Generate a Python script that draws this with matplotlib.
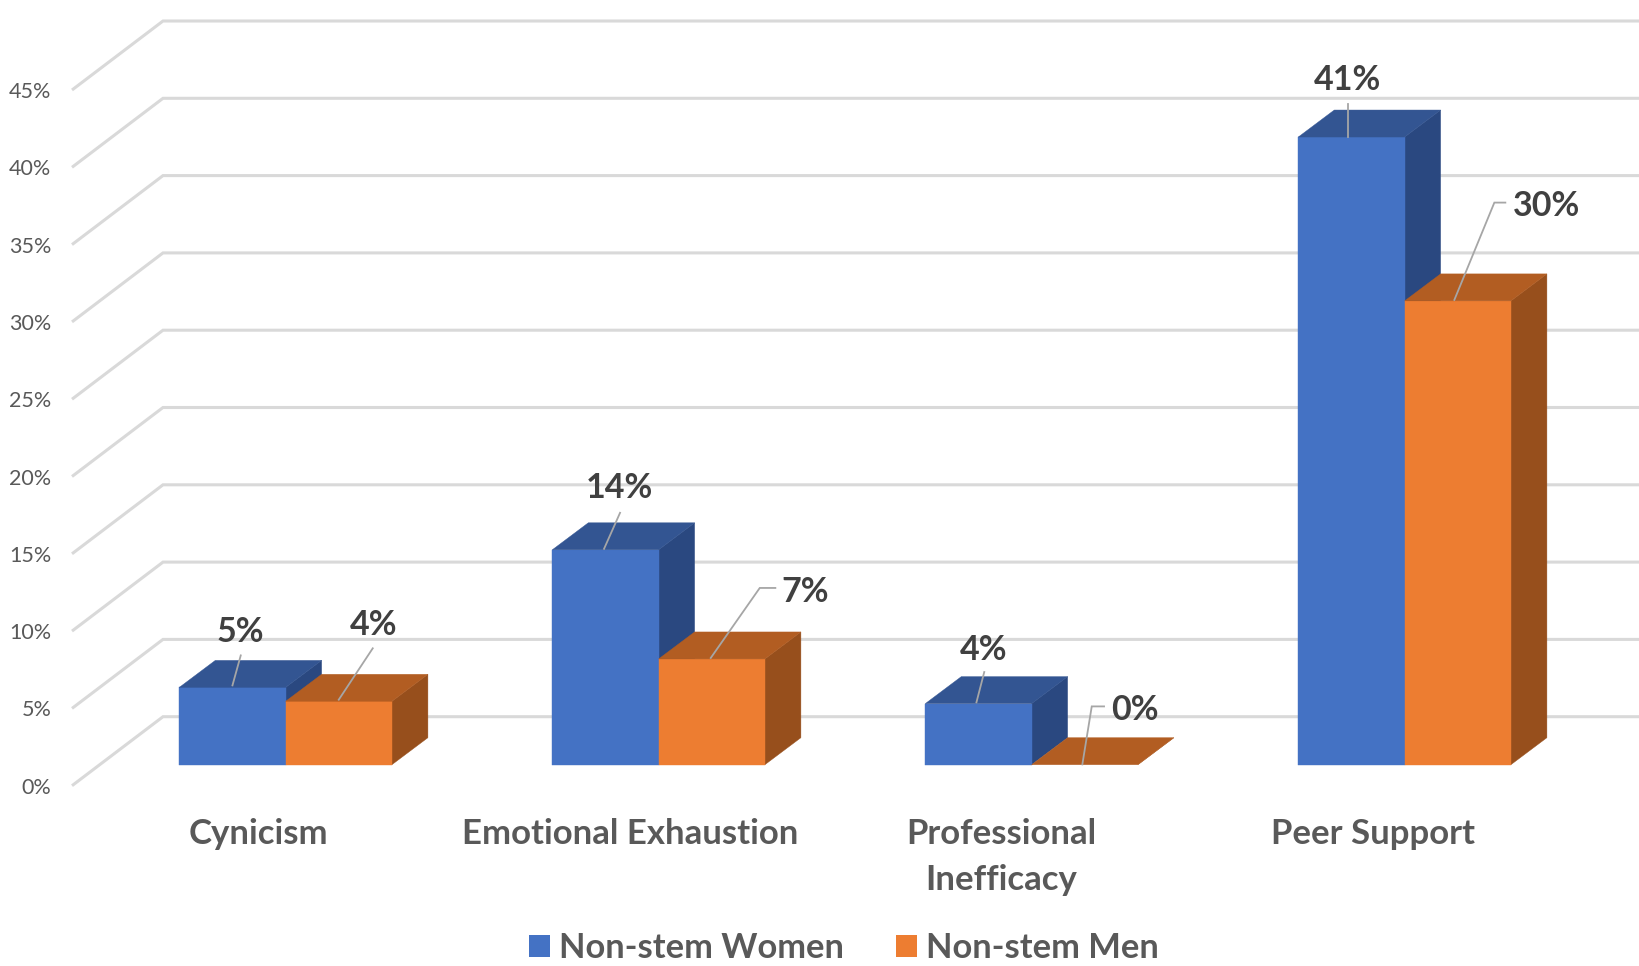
import matplotlib
matplotlib.use("Agg")
import matplotlib.pyplot as plt
from matplotlib.patches import Patch, Polygon

# --- data ---
categories = ["Cynicism", "Emotional Exhaustion", "Professional\nInefficacy", "Peer Support"]
women = [5.0, 13.9, 3.95, 40.6]
men = [4.1, 6.84, 0.0, 30.0]
y_ticks = [0, 5, 10, 15, 20, 25, 30, 35, 40, 45]
series_names = ["Non-stem Women", "Non-stem Men"]

# --- styles / layout ---
W, H = 1639, 966
PX_CAT = 373.0      # pixels per category step
PX_PCT = 15.46      # pixels per percent
AX_L, AX_B = 72, 785.7  # axes origin in image pixels
TICK0_PX = 258
LABEL_STEP = 0.9968
BAR_W = 106.3 / PX_CAT
BAR_SHIFT = 27.6 / PX_CAT
DEPTH_X, DEPTH_Y = 36 / PX_CAT, 27 / PX_PCT
FLOOR_DX, FLOOR_DY = 91 / PX_CAT, 69 / PX_PCT
BASE = 21.0 / PX_PCT
BLUE = ("#4472C4", "#335592", "#2A4880")
ORANGE = ("#ED7D31", "#B25D22", "#974F1C")
GRID = "#D9D9D9"
LEADER = "#A6A6A6"
TEXT_AXIS = "#595959"
TEXT_LABEL = "#404040"
FONT = "Lato"

# leader vertices and label centre, pixels relative to the front top centre of each bar
women_leaders = [[(0, 2), (8.3, 32)], [(-1.4, 1), (14.6, 37)], [(-2, 1.3), (5.8, 31.6)], [(-3.2, 0), (-3.2, 33)]]
women_text = [(8.3, 55), (13.6, 62), (5, 54), (-4, 57)]
men_leaders = [[(0, 1.6), (34, 53)], [(-1, 1), (48, 71), (63.6, 71)], [(-2.4, 0.3), (7, 58.3), (19.3, 58.3)],
               [(-3.4, 1), (36.6, 98.3), (47.6, 98.3)]]
men_text = [(34.4, 76), (93, 67), (50.3, 55), (88.3, 95)]

fig = plt.figure(figsize=(W / 100, H / 100), dpi=100, facecolor="white")
ax = fig.add_axes([AX_L / W, (H - AX_B) / H, (W - AX_L) / W, AX_B / H])
ax.set_xlim((AX_L - TICK0_PX) / PX_CAT, (W - TICK0_PX) / PX_CAT)
ax.set_ylim(0, AX_B / PX_PCT)
for s in ax.spines.values():
    s.set_visible(False)
ax.patch.set_visible(False)

# gridlines: diagonal on the side wall, then along the back wall
x0 = ax.get_xlim()[0]
x1 = ax.get_xlim()[1]
for v in y_ticks:
    ax.plot([x0, x0 + FLOOR_DX, x1], [v, v + FLOOR_DY, v + FLOOR_DY], color=GRID, lw=2.2,
            solid_joinstyle="miter", solid_capstyle="butt", zorder=1, clip_on=False)


def bar3d(left, value, cols, z):
    right = left + BAR_W
    lo, hi = BASE, BASE + value
    dx, dy = DEPTH_X, DEPTH_Y
    ax.add_patch(Polygon([(right, lo), (right + dx, lo + dy), (right + dx, hi + dy), (right, hi)],
                         fc=cols[2], ec=cols[2], lw=0.3, zorder=z))
    if value > 0:
        ax.add_patch(Polygon([(left, lo), (right, lo), (right, hi), (left, hi)],
                             fc=cols[0], ec=cols[0], lw=0.3, zorder=z + 0.1))
    ax.add_patch(Polygon([(left, hi), (left + dx, hi + dy), (right + dx, hi + dy), (right, hi)],
                         fc=cols[1], ec=cols[1], lw=0.3, zorder=z + 0.2))


def label(cx, value, pts, txt):
    ox, oy = ax.transData.transform((cx, BASE + value))
    ax.plot([ox + p[0] for p in pts], [oy + p[1] for p in pts], color=LEADER, lw=1.3,
            transform=None, zorder=6, solid_joinstyle="miter", clip_on=False)
    ax.text(ox + txt[0], oy + txt[1], f"{value:.0f}%", transform=None, ha="center", va="center",
            fontsize=24.5, fontweight="bold", color=TEXT_LABEL, family=FONT, zorder=7)


for i in range(len(categories)):
    split = i + BAR_SHIFT
    bar3d(split - BAR_W, women[i], BLUE, 2)
    bar3d(split, men[i], ORANGE, 3)
    label(split - BAR_W / 2, women[i], women_leaders[i], women_text[i])
    label(split + BAR_W / 2, men[i], men_leaders[i], men_text[i])

ax.set_yticks(y_ticks)
ax.set_yticklabels([f"{v}%" for v in y_ticks], family=FONT, fontsize=15.5, color=TEXT_AXIS)
ax.set_xticks([i * LABEL_STEP for i in range(len(categories))])
ax.set_xticklabels(categories, family=FONT, fontsize=25, fontweight="bold", color=TEXT_AXIS, linespacing=1.53)
ax.tick_params(axis="both", length=0)
ax.tick_params(axis="y", pad=15)
ax.tick_params(axis="x", pad=23.5)

handles = [Patch(fc=BLUE[0], ec=BLUE[0], lw=0), Patch(fc=ORANGE[0], ec=ORANGE[0], lw=0)]
leg = fig.legend(handles, series_names, loc="center", bbox_to_anchor=(844 / W, 1 - 948 / H), ncol=2, frameon=False,
                 prop={"family": FONT, "weight": "bold", "size": 24.8}, labelcolor=TEXT_AXIS,
                 handlelength=0.6, handleheight=0.58, handletextpad=0.27, columnspacing=1.5, borderpad=0, borderaxespad=0)

fig.savefig("out.png", dpi=100, facecolor="white")
